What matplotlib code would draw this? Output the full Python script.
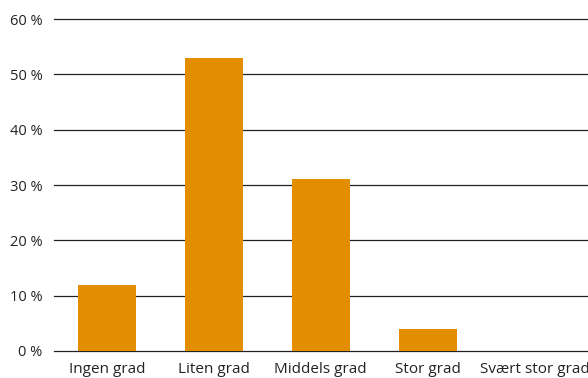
import matplotlib
matplotlib.use("Agg")
import matplotlib.pyplot as plt
from matplotlib.ticker import FuncFormatter

categories = ["Ingen grad", "Liten grad", "Middels grad", "Stor grad", "Svært stor grad"]
shares = [12, 53, 31, 4, 0]

plt.rcParams['font.family'] = ['Open Sans', 'DejaVu Sans']

fig = plt.figure(figsize=(5.88, 3.78), dpi=100)
ax = fig.add_axes([53.5 / 588, 27 / 378, (588 - 53.5) / 588, 332 / 378])

x = range(len(categories))
ax.bar(x, shares, width=0.54, color="#E38E00", zorder=3)

ax.set_xlim(-0.5, len(categories) - 0.5)
ax.set_ylim(0, 60)
ax.set_yticks(range(0, 61, 10))
ax.yaxis.set_major_formatter(FuncFormatter(lambda v, p: f"{int(v)} %"))
ax.set_xticks(list(x))
ax.set_xticklabels(categories)
ax.grid(axis="y", color="#222222", linewidth=0.9, zorder=0)
for gl in ax.get_ygridlines():
    gl.set_clip_on(False)
for s in ax.spines.values():
    s.set_visible(False)
ax.tick_params(axis="both", length=0, colors="#222222")
ax.tick_params(axis="y", pad=8, labelsize=10.5)
ax.tick_params(axis="x", pad=8, labelsize=11)
for lbl in ax.get_xticklabels():
    lbl.set_clip_on(False)

fig.savefig("out.png", dpi=100)
